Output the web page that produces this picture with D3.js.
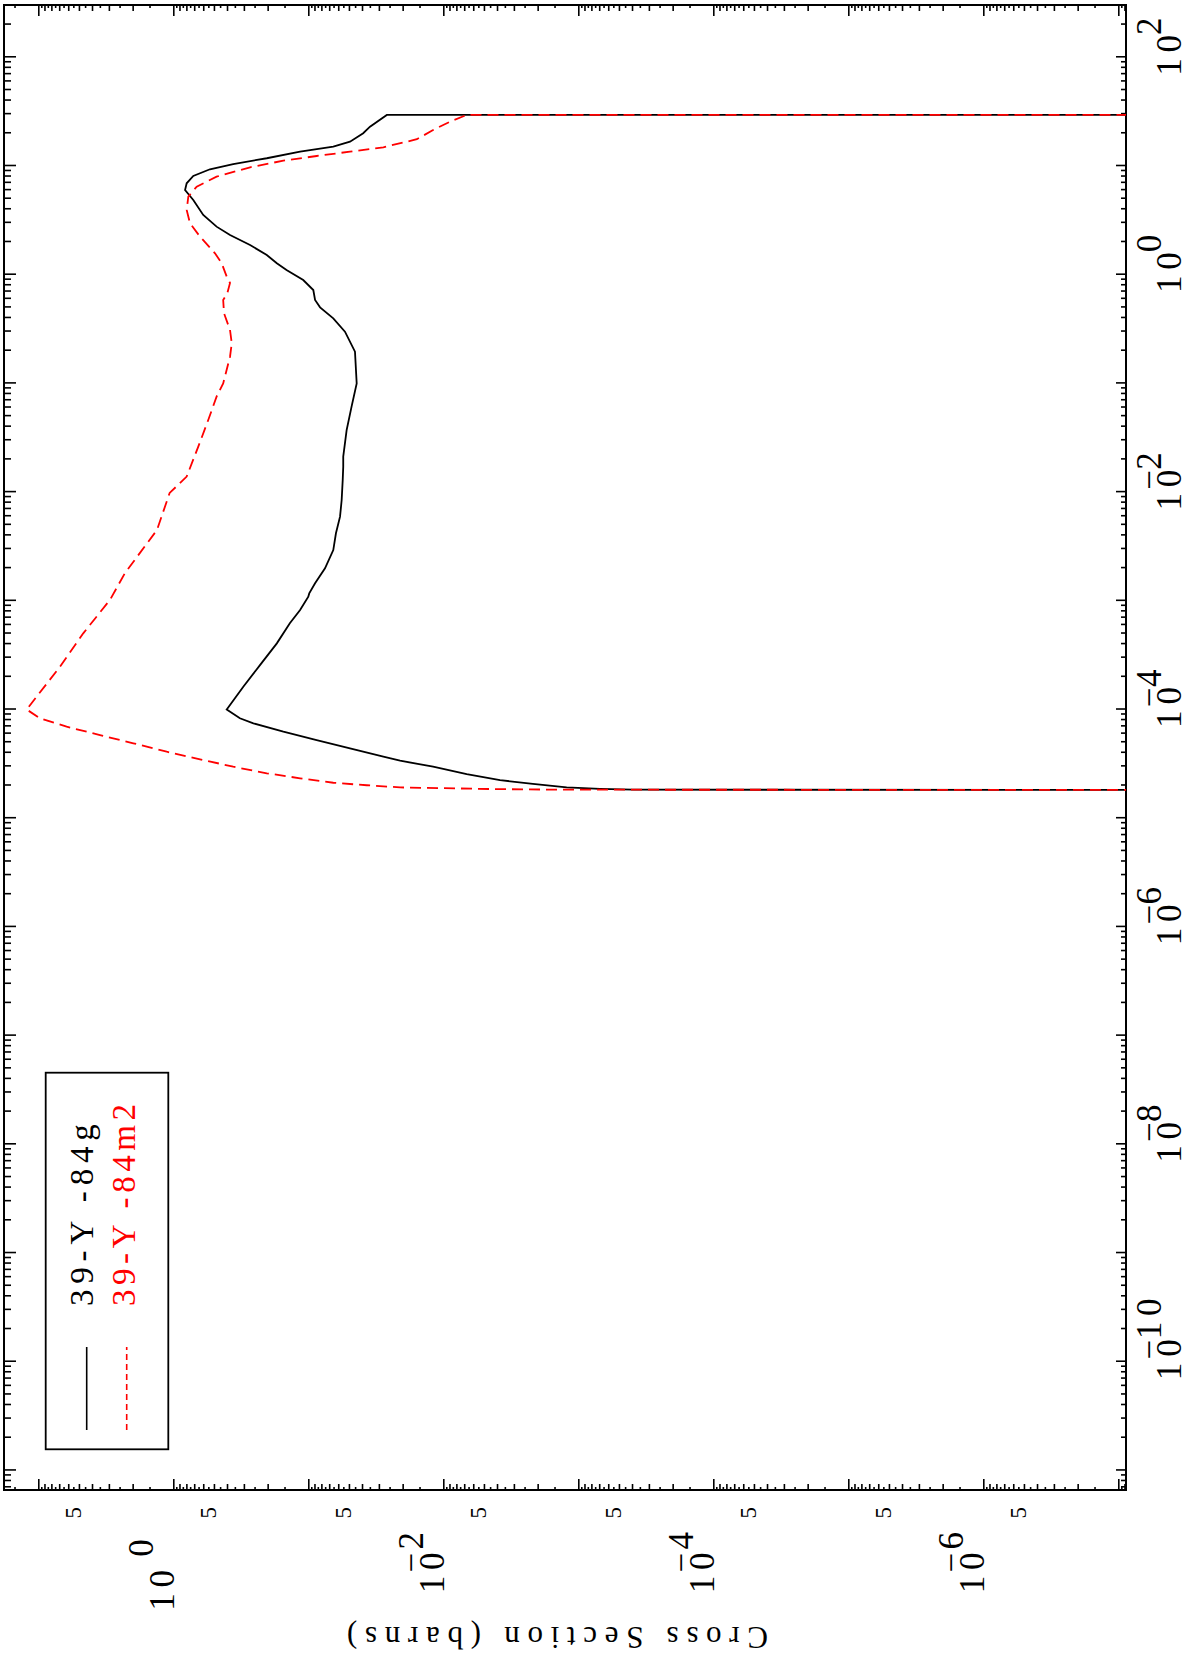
<!DOCTYPE html>
<html><head><meta charset="utf-8">
<script src="https://cdn.jsdelivr.net/npm/d3@7"></script>
<style>body{margin:0;background:#fff}svg{display:block}</style>
</head><body>
<script>
// ---- data (energy in MeV, cross section in barns) ----
const energyG = [1.82e-5,1.83e-5,1.86e-5,1.92e-5,2.07e-5,2.24e-5,2.55e-5,2.98e-5,3.38e-5,3.68e-5,4.40e-5,5.24e-5,6.25e-5,7.46e-5,8.30e-5,1.00e-4,
  1.62e-4,2.56e-4,4.06e-4,6.21e-4,8.22e-4,1.09e-3,1.17e-3,1.45e-3,1.99e-3,2.93e-3,4.18e-3,5.94e-3,8.45e-3,1.29e-2,1.71e-2,2.12e-2,3.72e-2,6.11e-2,
  0.100,0.196,0.299,0.397,0.501,0.585,0.723,0.893,1.104,1.274,1.517,1.875,2.317,2.767,3.540,4.864,6.012,6.934,8.091,9.333,10.42,11.78,13.55,15.07,16.75,20.0,23.01,29.5,29.5];
const sigmaG = [0,3.94e-4,6.90e-4,1.22e-3,2.17e-3,3.80e-3,6.71e-3,1.19e-2,2.09e-2,2.78e-2,4.91e-2,8.67e-2,0.153,0.255,0.321,0.402,
  0.303,0.228,0.171,0.137,0.115,0.100,0.0984,0.0891,0.0752,0.0653,0.0624,0.0582,0.0566,0.0556,0.0551,0.0551,0.0520,0.0478,
  0.0438,0.0451,0.0535,0.0653,0.0818,0.0891,0.0918,0.109,0.145,0.171,0.203,0.270,0.380,0.478,0.600,0.711,0.818,0.796,0.711,0.535,0.360,0.203,0.115,0.0653,0.0491,0.0392,0.0349,0.0262,0];
const energyM2 = [1.82e-5,1.83e-5,1.85e-5,1.92e-5,2.01e-5,2.12e-5,2.33e-5,2.59e-5,2.98e-5,3.48e-5,4.09e-5,4.89e-5,5.82e-5,6.95e-5,8.30e-5,1.00e-4,
  2.48e-4,5.02e-4,1.02e-3,1.80e-3,4.48e-3,9.82e-3,1.39e-2,2.62e-2,4.60e-2,7.55e-2,0.100,0.176,0.234,0.310,0.442,0.585,0.675,0.839,0.959,
  1.274,1.574,2.239,2.972,3.936,5.224,6.457,7.980,9.727,11.19,12.36,13.55,14.86,17.62,21.43,25.59,29.5,29.5];
const sigmaM2 = [0,1.37e-3,3.80e-3,2.09e-2,3.69e-2,6.53e-2,0.115,0.203,0.360,0.634,1.119,1.977,3.491,6.166,9.705,12.19,
  6.902,4.645,2.944,2.280,1.321,1.064,0.796,0.653,0.551,0.478,0.427,0.380,0.369,0.380,0.421,0.427,0.398,0.380,0.402,
  0.438,0.491,0.634,0.752,0.796,0.774,0.671,0.478,0.270,0.153,0.0867,0.0491,0.0278,0.0157,0.0119,0.00891,0.00671,0];
const energyLabelExps = [-10,-8,-6,-4,-2,0,2];
const sigmaLabelExps = [0,-2,-4,-6];
const sigmaFiveExps = [0,-1,-2,-3,-4,-5,-6,-7];
const energyMinorMantissas = [2,3,4,5,6,7,8,9];
const sigmaMinorMantissas = [1.5,2,2.5,3,3.5,4,4.5,5,5.5,6,6.5,7,7.5,8,8.5,9,9.5];
const legendNames = ["39-Y -84g","39-Y -84m2"];
const seriesColors = ["#000000","#ff0000"];
const yTitle = "Cross Section (barns)";

// ---- layout (drawn landscape, then rotated -90deg) ----
const W = 1191, H = 1663;
const FONT = "'Liberation Serif','DejaVu Serif',serif";
const uL = 173, uR = 1658, vT = 4, vB = 1126;
const svg = d3.select("body").append("svg").attr("width", W).attr("height", H);
const g = svg.append("g").attr("transform", `translate(0,${H}) rotate(-90)`);

const x = d3.scaleLog().domain([Math.pow(10,-11.18), Math.pow(10,2.481)]).range([uL, uR]);
const y = d3.scaleLog().domain([Math.pow(10,-7.057), Math.pow(10,1.254)]).range([vB, vT]);

function logTicks(scale, mants){
  const d = scale.domain().map(Math.log10), lo = Math.min(...d), hi = Math.max(...d);
  const maj = [], minInt = [], minHalf = [];
  const inside = v => { const l = Math.log10(v); return l >= lo && l <= hi; };
  for (let e = Math.floor(lo); e <= Math.ceil(hi); e++) {
    const p = Math.pow(10, e);
    if (inside(p)) maj.push(p);
    mants.forEach(k => { const v = k*p; if (inside(v)) (Number.isInteger(k) ? minInt : minHalf).push(v); });
  }
  return {maj, minInt, minHalf};
}
const xt = logTicks(x, energyMinorMantissas), yt = logTicks(y, sigmaMinorMantissas);
function addAxis(gen, vals, size, tr){
  const a = g.append("g").attr("transform", tr)
    .call(gen.tickValues(vals).tickSize(size).tickFormat(""));
  a.select(".domain").remove();
  a.selectAll("line").attr("stroke", "#000").attr("stroke-width", 1.6);
}
// energy axis (bottom and top of the landscape frame)
addAxis(d3.axisBottom(x), xt.maj, -10, `translate(0,${vB})`);
addAxis(d3.axisBottom(x), xt.minInt, -5, `translate(0,${vB})`);
addAxis(d3.axisTop(x), xt.maj, -12, `translate(0,${vT})`);
addAxis(d3.axisTop(x), xt.minInt, -7, `translate(0,${vT})`);
// cross-section axis (left and right)
[[d3.axisLeft, uL],[d3.axisRight, uR]].forEach(([ax, u]) => {
  addAxis(ax(y), yt.maj, -11, `translate(${u},0)`);
  addAxis(ax(y), yt.minInt, -6, `translate(${u},0)`);
  addAxis(ax(y), yt.minHalf, -3, `translate(${u},0)`);
});

g.append("rect").attr("x", uL).attr("y", vT).attr("width", uR-uL).attr("height", vB-vT)
  .attr("fill", "none").attr("stroke", "#000").attr("stroke-width", 2);

g.append("clipPath").attr("id", "clip").append("rect")
  .attr("x", uL).attr("y", vT).attr("width", uR-uL).attr("height", vB-vT);

const line = d3.line().x(d => x(d[0])).y(d => d[1] > 0 ? y(d[1]) : vB + 60);
const series = [
  {e: energyG, s: sigmaG, color: seriesColors[0], dash: null},
  {e: energyM2, s: sigmaM2, color: seriesColors[1], dash: "11,6"}
];
series.forEach(sr => {
  g.append("path").datum(sr.e.map((e,i) => [e, sr.s[i]]))
    .attr("clip-path", "url(#clip)")
    .attr("d", line).attr("fill", "none").attr("stroke", sr.color)
    .attr("stroke-width", 1.8).attr("stroke-dasharray", sr.dash);
});

// text helper: monospaced-width text in a serif face
function txt(xp, yp, s, size, anchor, color, adv){
  const t = g.append("text").attr("x", xp).attr("y", yp).attr("text-anchor", anchor || "start")
    .attr("font-family", FONT).attr("font-size", size).attr("fill", color || "#000").text(s);
  if (s.length > 1) t.attr("textLength", s.length*(adv || 0.6*size)).attr("lengthAdjust", "spacing");
  return t;
}

// energy tick labels
const fs = 35, adv = 20.4;
energyLabelExps.forEach(n => {
  const u = x(Math.pow(10, n));
  txt(u + 2, 1181, "10", fs, "middle", null, adv);
  if (n < 0) txt(u + 2 + adv/2, 1161, "\u2212", fs, "middle");
  txt(u + 2 + adv, 1161, String(Math.abs(n)), fs, "start", null, adv);
});

// cross-section labels (exponent right-aligned at a fixed column)
sigmaLabelExps.forEach(n => {
  const v = y(Math.pow(10, n));
  const sup = String(Math.abs(n));
  const supEnd = 131;
  if (n >= 0) txt(supEnd - 16, v - 20, sup, fs, "middle");
  else txt(supEnd, v - 20, sup, fs, "end", null, adv);
  const baseEnd = n < 0 ? supEnd - adv*sup.length : supEnd - 38;
  txt(baseEnd, v + 1, "10", fs, "end", null, adv);
  if (n < 0) txt(baseEnd - adv/2, v - 20, "\u2212", fs, "middle");
});
sigmaFiveExps.forEach(n => {
  const v = y(5*Math.pow(10, n));
  txt(156, v + 2, "5", 23, "end");
});

// y title
g.append("text").attr("transform", `translate(36,557.5) rotate(-90)`).attr("text-anchor", "middle")
  .attr("font-family", FONT).attr("font-size", 31)
  .attr("textLength", 421).attr("lengthAdjust", "spacing").text(yTitle);

// legend
g.append("rect").attr("x", 213.7).attr("y", 45.7).attr("width", 376.6).attr("height", 122.6)
  .attr("fill", "none").attr("stroke", "#000").attr("stroke-width", 1.8);
legendNames.forEach((name, i) => {
  const v = 86.7 + i*40;
  g.append("line").attr("x1", 233).attr("x2", 316).attr("y1", v).attr("y2", v)
    .attr("stroke", seriesColors[i]).attr("stroke-width", 1.6)
    .attr("stroke-dasharray", i ? "6,4" : null);
  txt(357, 93 + i*42, name, 33, "start", seriesColors[i], 20.2);
});
</script>
</body></html>
